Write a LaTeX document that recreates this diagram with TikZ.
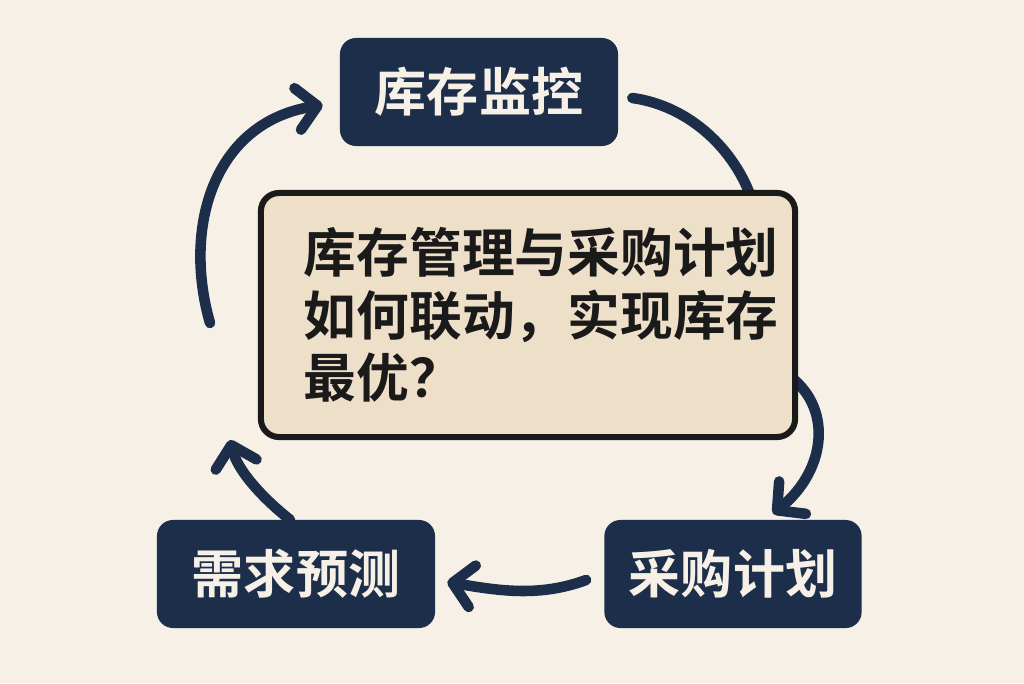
\documentclass[tikz,border=0pt]{standalone}
\usepackage{fontspec}
\usetikzlibrary{arrows.meta,calc}
\newfontfamily\cjk{Noto Sans CJK SC}[BoldFont={Noto Sans CJK SC Bold}]
\definecolor{bg}{HTML}{F6F0E6}
\definecolor{navy}{HTML}{1C2E4A}
\definecolor{sand}{HTML}{EEDFC8}
\definecolor{ink}{HTML}{1A1A1A}

\begin{document}
\begin{tikzpicture}[
            x=0.025cm, y=-0.025cm,
            box/.style={rectangle, rounded corners=0.4cm, fill=navy, text=bg, minimum width=6.95cm, minimum height=2.7cm, font={\cjk\bfseries\fontsize{37pt}{40pt}\selectfont}},
            qbox/.style={rectangle, rounded corners=0.45cm, draw=ink, line width=4.3pt, fill=sand, text=ink, align=left, text width=11.2cm, inner xsep=1.07cm, minimum width=13.35cm, minimum height=6.1cm, font={\cjk\bfseries\fontsize{37.5pt}{44.5pt}\selectfont}},
            arc/.style={draw=navy, line width=7.5pt, line cap=round},
            arr/.style={arc, -{Straight Barb[length=0.5cm, width=1.05cm, round]}}
        ]
        \fill[bg] (0,0) rectangle (1024,683);
        % the three steps
        \node[box] (mon) at (479,92) {库存监控};
        \node[box] (fc) at (296,574) {需求预测};
        \node[box, minimum width=6.43cm] (buy) at (733,574) {采购计划};
        % free ends
        \coordinate (l1) at (210,323);
        \coordinate (b1) at (230,440);
        % cycle arrows
        \draw[arr] (l1) .. controls (182,225) and (215,122) .. ($(mon.west)+(-17,13)$);
        \draw[arc] ($(mon.east)+(14,6)$) .. controls (690,106) and (735,150) .. (752,200);
        \draw[arr] (792,378) .. controls (832,410) and (826,470) .. ($(buy.north)+(40,-6)$);
        \draw[arr] ($(buy.west)+(-18,6)$) .. controls (540,597) and (500,591) .. ($(fc.east)+(12,8)$);
        \draw[arr] ($(fc.north)+(-6,0)$) .. controls (265,500) and (238,472) .. (b1);
        % question in the middle, on top of the arcs
        \node[qbox] (q) at (528,315) {库存管理与采购计划\\如何联动，实现库存\\最优？};
    \end{tikzpicture}
\end{document}
